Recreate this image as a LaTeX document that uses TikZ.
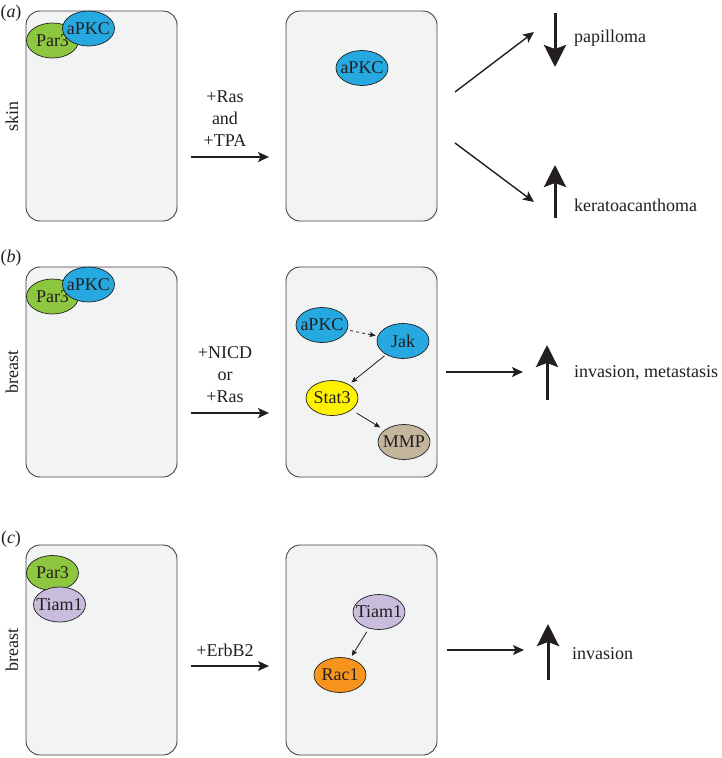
\documentclass[tikz,border=0pt]{standalone}
\usepackage{fontspec}
\setmainfont{Liberation Serif}
\usetikzlibrary{shapes.geometric,arrows.meta}
\definecolor{cellgray}{RGB}{242,243,243}
\definecolor{inkgray}{RGB}{35,31,32}
\definecolor{par3green}{RGB}{141,198,63}
\definecolor{apkcblue}{RGB}{38,169,224}
\definecolor{stat3yellow}{RGB}{255,242,0}
\definecolor{mmptan}{RGB}{194,181,155}
\definecolor{tiamlilac}{RGB}{200,189,220}
\definecolor{racorange}{RGB}{247,148,29}
\newcommand\molname[1]{\makebox[0pt]{#1}}

\begin{document}
\begin{tikzpicture}[x=1pt,y=-1pt,
  font=\fontsize{18}{22}\selectfont, text=inkgray,
  cellbox/.style={draw=inkgray!85, line width=0.9pt, fill=cellgray, rounded corners=14pt,
    minimum width=151pt, minimum height=210pt},
  mol/.style={draw=inkgray, line width=0.7pt, ellipse, inner sep=0pt,
    minimum width=52pt, minimum height=35pt},
  treat/.style={draw=inkgray, line width=1.4pt, -{Stealth[length=11pt,width=10pt,inset=2.5pt]}},
  effect/.style={draw=inkgray, line width=3pt, -{Stealth[length=22pt,width=22pt,inset=4pt]}},
  signal/.style={draw=inkgray, line width=0.8pt, -{Stealth[length=6pt,width=5pt,inset=1pt]}}]
\useasboundingbox (0,0) rectangle (722,758);
\newcommand\cellrow[3]{
\node[cellbox] (before) at (101.5,116) {};
\node[cellbox] (after) at (361.5,116) {};
\node (tag) at (11,#2) {(\textit{#1})};
\node[rotate=90] (tissue) at (12,116) {#3};
\coordinate (t1) at (191,157);
\coordinate (t2) at (269,157);
}
% (a) skin
\begin{scope}
\cellrow{a}{13}{skin}
\node[mol, fill=par3green] (par3) at (52.5,40.5) {\molname{Par3}};
\node[mol, fill=apkcblue] (apkc) at (88.5,28.5) {\molname{aPKC}};
\node[mol, fill=apkcblue] (apkcB) at (362,68) {\molname{aPKC}};
\path[treat] (t1) -- (t2);
\node[align=center] (drug) at (225,119) {+Ras\\and\\+TPA};
\coordinate (o1) at (455,92);
\coordinate (o2) at (534,32);
\coordinate (o3) at (455,143);
\coordinate (o4) at (534,202);
\path[treat] (o1) -- (o2);
\path[treat] (o3) -- (o4);
\coordinate (d1) at (555,13);
\coordinate (d2) at (555,67);
\coordinate (u1) at (555,218);
\coordinate (u2) at (555,165);
\path[effect] (d1) -- (d2);
\path[effect] (u1) -- (u2);
\node[anchor=base west, inner sep=0pt] (pap) at (574,42) {papilloma};
\node[anchor=base west, inner sep=0pt] (ker) at (574,211) {keratoacanthoma};
\end{scope}
% (b) breast
\begin{scope}[yshift=-256pt]
\cellrow{b}{2}{breast}
\node[mol, fill=par3green] (par3) at (52.5,40.5) {\molname{Par3}};
\node[mol, fill=apkcblue] (apkc) at (88.5,28.5) {\molname{aPKC}};
\node[mol, fill=apkcblue] (apkcB) at (322,69) {\molname{aPKC}};
\node[mol, fill=apkcblue] (jak) at (403,85) {\molname{Jak}};
\node[mol, fill=stat3yellow] (stat3) at (332,142) {\molname{Stat3}};
\node[mol, fill=mmptan] (mmp) at (404,186) {\molname{MMP}};
\path[signal, dashed, shorten <=3pt, shorten >=2pt] (apkcB) -- (jak);
\path[signal, shorten <=2pt, shorten >=3pt] (jak) -- (stat3);
\path[signal, shorten <=6pt, shorten >=5pt] (stat3) -- (mmp);
\path[treat] (t1) -- (t2);
\node[align=center] (drug) at (225,119) {+NICD\\or\\+Ras};
\coordinate (o1) at (446,116);
\coordinate (o2) at (523,116);
\path[treat] (o1) -- (o2);
\coordinate (u1) at (547,144);
\coordinate (u2) at (547,89);
\path[effect] (u1) -- (u2);
\node[anchor=base west, inner sep=0pt] (inv) at (574,121) {invasion, metastasis};
\end{scope}
% (c) breast
\begin{scope}[yshift=-534pt]
\cellrow{c}{5}{breast}
\node[mol, fill=par3green] (par3) at (52.5,39) {\molname{Par3}};
\node[mol, fill=tiamlilac] (tiam) at (59.5,70.5) {\molname{Tiam1}};
\node[mol, fill=tiamlilac] (tiamB) at (379,78) {\molname{Tiam1}};
\node[mol, fill=racorange] (rac) at (340,141) {\molname{Rac1}};
\path[signal, shorten <=4pt, shorten >=3pt] (tiamB) -- (rac);
\coordinate (t1) at (191,132);
\coordinate (t2) at (269,132);
\path[treat] (t1) -- (t2);
\node[anchor=base] (drug) at (225,122) {+ErbB2};
\coordinate (o1) at (447,116);
\coordinate (o2) at (524,116);
\path[treat] (o1) -- (o2);
\coordinate (u1) at (548,146);
\coordinate (u2) at (548,90);
\path[effect] (u1) -- (u2);
\node[anchor=base west, inner sep=0pt] (inv) at (572,125) {invasion};
\end{scope}
\end{tikzpicture}
\end{document}
